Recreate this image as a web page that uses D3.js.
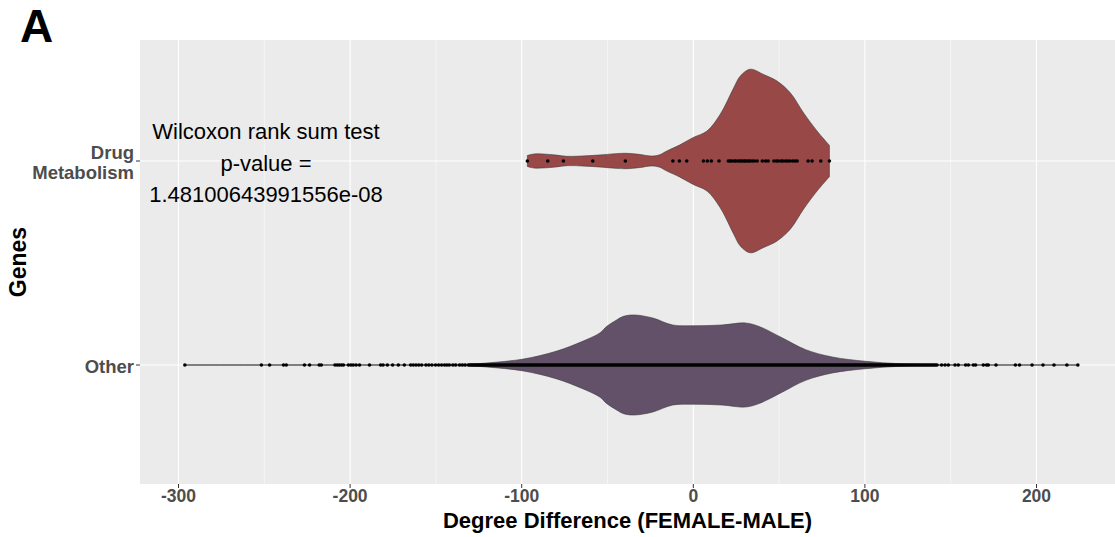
<!DOCTYPE html>
<html>
<head>
    <meta charset="UTF-8">
    <title>Degree difference violin</title>
    <style>
        body { margin: 0; background: #fff; }
        text { font-family: "Liberation Sans", Arial, Helvetica, sans-serif; }
    </style>
</head>
<body>
    <script src="https://d3js.org/d3.v7.min.js"></script>
    <script type="text/javascript">
        // categories (top to bottom)
        var categories = ["Drug Metabolism", "Other"];
        var categoryLines = [["Drug", "Metabolism"], ["Other"]];
        var fills = ["#984846", "#63516a"];
        var xTicks = [-300, -200, -100, 0, 100, 200];
        var xMinorTicks = [-250, -150, -50, 50, 150];

        // points
        var drugPoints = [-96.7, -84.8, -75.7, -58.6, -39.6, -11.9, -8.1, -3.8, 5.9, 8.2, 10.5, 15.0,
            20.4, 21.6, 22.5, 23.9, 24.7, 26.0, 27.1, 28.0, 29.2, 30.1, 31.0, 32.2, 33.1, 34.4, 35.6, 37.2,
            40.2, 42.1, 43.6, 47.0, 48.4, 49.5, 51.1, 52.2, 53.7, 55.0, 56.3, 57.9, 59.2, 60.5,
            66.9, 69.2, 74.3, 79.3];
        var otherPoints = [-296.3, -251.7, -246.9, -238.8, -237.2, -226.6, -223.6, -218.0, -216.8,
            -208.8, -207.5, -206.3, -205.0, -203.9, -201.0, -199.5, -198.2, -196.5, -194.5, -188.7,
            -182.2, -180.8, -178.3, -175.2, -171.9, -168.4, -164.7, -163.2, -161.6, -160.0, -158.3,
            -155.8, -154.1, -152.3, -150.2, -148.4, -146.7, -145.0, -143.6, -142.2, -140.1, -138.5,
            -136.2, -134.6, -133.0,
            144.7, 146.7, 148.6, 152.5, 154.4, 158.7, 160.3, 163.2, 164.5, 169.0, 170.9, 171.9,
            176.4, 187.7, 190.1, 197.4, 203.8, 210.2, 217.7, 224.1];
        // the overlapping points of the core
        var otherDenseRange = [-131, 142];

        // violin outlines: position and relative width (1 = widest)
        var drugViolinX = [-96.7, -93, -87.5, -80, -73.8, -65, -55, -45, -38.8, -31, -24.5, -20, -15.4, -8, 0,
            8, 15.7, 23.5, 27.4, 33.2, 41, 48.8, 56.6, 64.3, 72.1, 79.3];
        var drugViolinW = [0.06, 0.076, 0.076, 0.065, 0.051, 0.054, 0.065, 0.08, 0.084, 0.071, 0.054, 0.065,
            0.109, 0.174, 0.256, 0.327, 0.509, 0.795, 0.926, 1.0, 0.942, 0.871, 0.741, 0.523, 0.327, 0.171];
        var otherViolinX = [-296.3, -200, -150, -130, -120.3, -99, -80, -64.5, -54.5, -50.5, -44.7, -40.7, -34.5,
            -23.6, -12, 1.5, 16.7, 30.3, 38.3, 52, 65.5, 81, 100.5, 120, 140, 224.1];
        var otherViolinW = [0.003, 0.003, 0.005, 0.011, 0.022, 0.065, 0.149, 0.258, 0.349, 0.42, 0.49, 0.53, 0.545,
            0.512, 0.436, 0.428, 0.436, 0.458, 0.42, 0.294, 0.167, 0.087, 0.04, 0.014, 0.005, 0.003];

        var testLines = ["Wilcoxon rank sum test", "p-value =", "1.48100643991556e-08"];

        //生成画布
        var width = 1115;
        var height = 537;
        var panel = {left: 140, right: 1115, top: 40, bottom: 484};
        var svg = d3.select("body").append("svg")
            .attr("width", width)
            .attr("height", height);

        var x = d3.scaleLinear()
            .domain([-300, 200])
            .range([178.5, 1036.5]);
        var y = d3.scalePoint()
            .domain(categories)
            .range([161, 365]);
        var half = d3.scaleLinear()
            .domain([0, 1])
            .range([0, 0.45 * y.step()]);

        // panel background
        svg.append("rect")
            .attr("x", panel.left)
            .attr("y", panel.top)
            .attr("width", panel.right - panel.left)
            .attr("height", panel.bottom - panel.top)
            .attr("fill", "#ebebeb");

        // grid lines
        svg.selectAll(".minor").data(xMinorTicks).enter().append("line")
            .attr("x1", d => x(d)).attr("x2", d => x(d))
            .attr("y1", panel.top).attr("y2", panel.bottom)
            .attr("stroke", "#fff").attr("stroke-width", 0.5);
        svg.selectAll(".major").data(xTicks).enter().append("line")
            .attr("x1", d => x(d)).attr("x2", d => x(d))
            .attr("y1", panel.top).attr("y2", panel.bottom)
            .attr("stroke", "#fff").attr("stroke-width", 1.1);
        svg.selectAll(".hgrid").data(categories).enter().append("line")
            .attr("x1", panel.left).attr("x2", panel.right)
            .attr("y1", d => y(d)).attr("y2", d => y(d))
            .attr("stroke", "#fff").attr("stroke-width", 1.1);

        // violins
        function violin(xs, ws, cat, fill) {
            var rows = xs.map(function(v, i) { return {v: v, w: ws[i]}; });
            var area = d3.area()
                .x(d => x(d.v))
                .y0(d => y(cat) - half(d.w))
                .y1(d => y(cat) + half(d.w))
                .curve(d3.curveCatmullRom.alpha(0.5));
            svg.append("path")
                .attr("d", area(rows) + "Z")
                .attr("fill", fill)
                .attr("stroke", "#3a3a3a")
                .attr("stroke-width", 0.6);
        }
        violin(drugViolinX, drugViolinW, categories[0], fills[0]);
        violin(otherViolinX, otherViolinW, categories[1], fills[1]);

        // points
        svg.append("line")
            .attr("x1", x(otherDenseRange[0])).attr("x2", x(otherDenseRange[1]))
            .attr("y1", y(categories[1])).attr("y2", y(categories[1]))
            .attr("stroke", "#000").attr("stroke-width", 3.6)
            .attr("stroke-linecap", "round");
        svg.selectAll(".pt-other").data(otherPoints).enter().append("circle")
            .attr("cx", d => x(d)).attr("cy", y(categories[1]))
            .attr("r", 1.8).attr("fill", "#000");
        svg.selectAll(".pt-drug").data(drugPoints).enter().append("circle")
            .attr("cx", d => x(d)).attr("cy", y(categories[0]))
            .attr("r", 1.8).attr("fill", "#000");

        // axes ticks and labels
        svg.selectAll(".xtick").data(xTicks).enter().append("line")
            .attr("x1", d => x(d)).attr("x2", d => x(d))
            .attr("y1", panel.bottom).attr("y2", panel.bottom + 4)
            .attr("stroke", "#333").attr("stroke-width", 1);
        svg.selectAll(".xlab").data(xTicks).enter().append("text")
            .attr("x", d => x(d)).attr("y", panel.bottom + 18)
            .attr("text-anchor", "middle")
            .attr("font-size", 17.5).attr("font-weight", "bold")
            .attr("fill", "#4d4d4d")
            .text(d => d);
        svg.selectAll(".ytick").data(categories).enter().append("line")
            .attr("x1", panel.left - 4).attr("x2", panel.left)
            .attr("y1", d => y(d)).attr("y2", d => y(d))
            .attr("stroke", "#333").attr("stroke-width", 1);
        categories.forEach(function(cat, i) {
            var lines = categoryLines[i];
            var t = svg.append("text")
                .attr("text-anchor", "end")
                .attr("font-size", 18.5).attr("font-weight", "bold")
                .attr("fill", "#4d4d4d");
            lines.forEach(function(s, j) {
                t.append("tspan")
                    .attr("x", panel.left - 6)
                    .attr("y", y(cat) + 7.5 + (j - (lines.length - 1) / 2) * 20)
                    .text(s);
            });
        });

        // axis titles
        svg.append("text")
            .attr("x", (panel.left + panel.right) / 2).attr("y", panel.bottom + 44)
            .attr("text-anchor", "middle")
            .attr("font-size", 22).attr("font-weight", "bold")
            .text("Degree Difference (FEMALE-MALE)");
        svg.append("text")
            .attr("transform", "translate(26," + ((panel.top + panel.bottom) / 2) + ") rotate(-90)")
            .attr("text-anchor", "middle")
            .attr("font-size", 23).attr("font-weight", "bold")
            .text("Genes");

        // test annotation
        svg.selectAll(".note").data(testLines).enter().append("text")
            .attr("x", 266).attr("y", (d, i) => 139 + i * 31.5)
            .attr("text-anchor", "middle")
            .attr("font-size", 22)
            .attr("fill", "#000")
            .text(d => d);

        // panel letter
        svg.append("text")
            .attr("x", 20).attr("y", 42)
            .attr("font-size", 46).attr("font-weight", "bold")
            .text("A");
    </script>
</body>
</html>
